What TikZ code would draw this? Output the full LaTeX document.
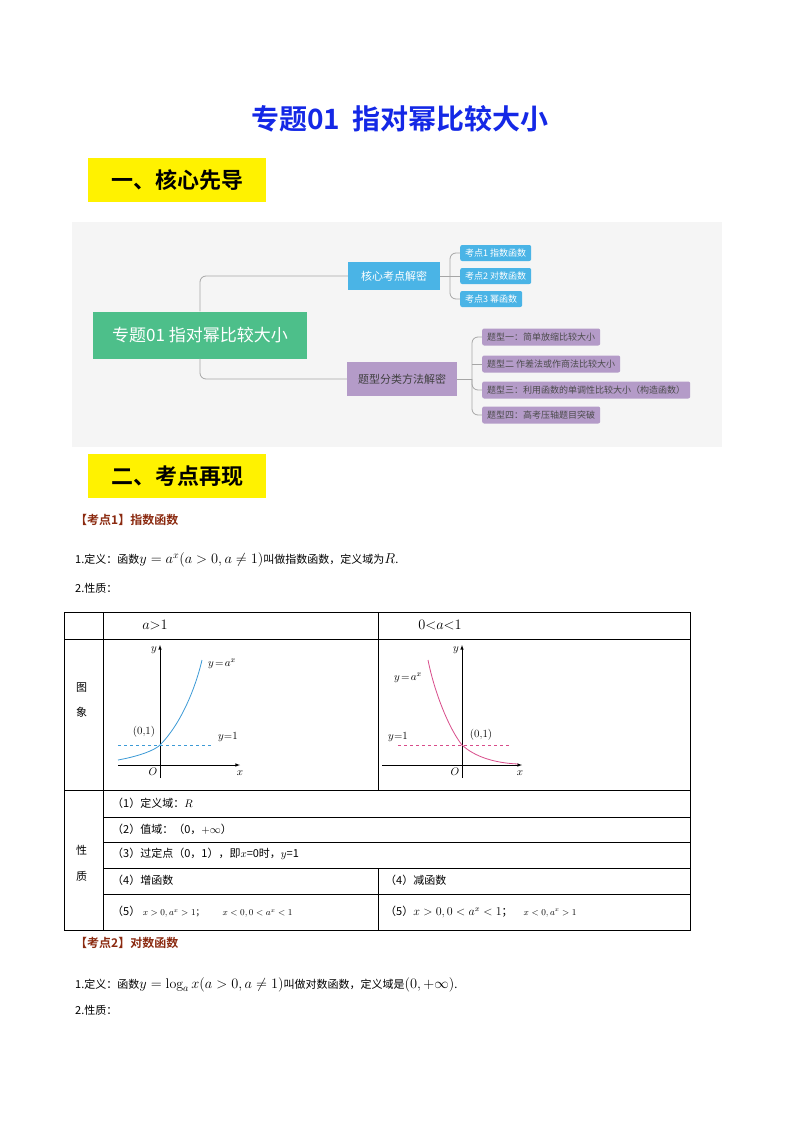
\documentclass[tikz,border=0pt]{standalone}
\usepackage{fontspec}
\newfontfamily\cjk{Noto Sans CJK SC}
\newfontfamily\cjkb{Noto Sans CJK SC Bold}
\definecolor{tblue}{HTML}{1428E6}
\definecolor{mgreen}{HTML}{4DBF8A}
\definecolor{mblue}{HTML}{4AB4E6}
\definecolor{mpurple}{HTML}{B49BC8}
\definecolor{kred}{HTML}{8B2A10}
\definecolor{cblue}{HTML}{3C9AD6}
\definecolor{cpink}{HTML}{D84C8A}
\tikzset{
 txt/.style={anchor=west,inner sep=0,font=\cjk\fontsize{11}{13}\selectfont},
 ybox/.style={fill=yellow,minimum width=178pt,minimum height=44pt,font=\cjkb\fontsize{22}{26}\selectfont},
 bleaf/.style={fill=mblue,rounded corners=2pt,text=white,anchor=west,minimum height=16pt,inner xsep=5pt,inner ysep=0pt,font=\cjk\fontsize{9}{10}\selectfont},
 pleaf/.style={fill=mpurple,rounded corners=2pt,text=black!70,anchor=west,minimum height=17pt,inner xsep=5pt,inner ysep=0pt,font=\cjk\fontsize{9}{10}\selectfont},
 conn/.style={draw=gray!70,line width=0.8pt,rounded corners=6pt},
 grid/.style={line width=0.6pt},
 glab/.style={font=\fontsize{11}{12}\selectfont},
}
\begin{document}
\begin{tikzpicture}[x=1pt,y=-1pt]
\useasboundingbox (0,0) rectangle (800,1132);
\fill[white] (0,0) rectangle (800,1132);
\node[font=\cjkb\fontsize{28}{32}\selectfont,text=tblue] (title) at (400,119) {专题01\ \ 指对幂比较大小};
\node[ybox] (h1) at (177,180) {一、核心先导};
% mind map
\fill[gray!8] (72,222) rectangle (722,447);
\node[fill=mgreen,text=white,minimum width=214pt,minimum height=47pt,font=\cjk\fontsize{17}{20}\selectfont] (main) at (200,335) {专题01 指对幂比较大小};
\node[fill=mblue,text=white,minimum width=92pt,minimum height=28pt,font=\cjk\fontsize{11}{13}\selectfont] (b1) at (394,276) {核心考点解密};
\node[fill=mpurple,text=black!75,minimum width=110pt,minimum height=34pt,font=\cjk\fontsize{11}{13}\selectfont] (b2) at (402,379) {题型分类方法解密};
\node[bleaf] (l1) at (460,253) {考点1 指数函数};
\node[bleaf] (l2) at (460,276) {考点2 对数函数};
\node[bleaf] (l3) at (460,299) {考点3 幂函数};
\node[pleaf] (p1) at (482,337) {题型一：简单放缩比较大小};
\node[pleaf] (p2) at (482,364) {题型二 作差法或作商法比较大小};
\node[pleaf] (p3) at (482,390) {题型三：利用函数的单调性比较大小（构造函数）};
\node[pleaf] (p4) at (482,415) {题型四：高考压轴题目突破};
\draw[conn] (main.north) |- (b1.west);
\draw[conn] (main.south) |- (b2.west);
\draw[conn] (b1.east) -- (450,276);
\draw[conn] (450,276) |- (l1.west); \draw[conn] (450,276) |- (l3.west); \draw[conn] (450,276) -- (l2.west);
\draw[conn] (b2.east) -- (472,379);
\draw[conn] (472,379) |- (p1.west); \draw[conn] (472,379) |- (p4.west);
\draw[conn] (472,364) -- (p2.west); \draw[conn] (472,379) |- (p3.west);
\node[ybox] (h2) at (177,476) {二、考点再现};
\node[txt,font=\cjkb\fontsize{12}{14}\selectfont,text=kred] (k1) at (75,520) {【考点1】指数函数};
\node[txt] (d1) at (75,560) {1.定义：函数{\fontsize{14}{16}\selectfont$y=a^x(a>0,a\neq1)$}叫做指数函数，定义域为{\fontsize{14}{16}\selectfont$R$}.};
\node[txt] (d2) at (75,588) {2.性质：};
% table
\draw[grid] (64,612) rectangle (690,930);
\draw[grid] (64,639) -- (690,639);
\draw[grid] (64,790) -- (690,790);
\draw[grid] (103,612) -- (103,930);
\draw[grid] (378,612) -- (378,790);
\draw[grid] (378,868) -- (378,930);
\foreach \yy in {817,842,868,894} \draw[grid] (103,\yy) -- (690,\yy);
\node[font=\fontsize{15}{17}\selectfont] (c1) at (155,625) {$a{>}1$};
\node[font=\fontsize{15}{17}\selectfont] (c2) at (440,625) {$0{<}a{<}1$};
\node[txt] (r1) at (76,688) {图};
\node[txt] (r2) at (76,712) {象};
\node[txt] (r3) at (76,850) {性};
\node[txt] (r4) at (76,876) {质};
\node[txt] (s1) at (112,803) {（1）定义域：$R$};
\node[txt] (s2) at (112,829) {（2）值域：（0，$+\infty$）};
\node[txt] (s3) at (112,854) {（3）过定点（0，1），即$x$=0时，$y$=1};
\node[txt] (s4) at (112,880) {（4）增函数};
\node[txt] (s5) at (385,880) {（4）减函数};
\node[txt] (s6) at (112,912) {（5）\ {\fontsize{9}{10}\selectfont $x>0,a^x>1$；\qquad $x<0,0<a^x<1$}};
\node[txt] (s7) at (385,912) {（5）{\fontsize{12}{14}\selectfont$x>0,0<a^x<1$}；\quad {\fontsize{9}{10}\selectfont$x<0,a^x>1$}};
% graph 1
\draw[line width=0.6pt,-latex] (118,765) -- (240,765);
\draw[line width=0.6pt,-latex] (160,778) -- (160,645);
\draw[cblue,dashed,line width=0.7pt] (118,745) -- (212,745);
\draw[cblue,line width=0.8pt] (118,760) .. controls (140,756) and (155,750) .. (160,745) .. controls (180,725) and (195,690) .. (202,660);
\node[glab] (g1) at (222,664) {$y\!=\!a^x$};
\node[glab] (g2) at (144,732) {(0,1)};
\node[glab] (g3) at (228,737) {$y$=1};
\node[glab] (g4) at (153,772) {$O$};
\node[glab] (g5) at (240,773) {$x$};
\node[glab] (g6) at (154,650) {$y$};
% graph 2
\draw[line width=0.6pt,-latex] (382,765) -- (522,765);
\draw[line width=0.6pt,-latex] (462,778) -- (462,645);
\draw[cpink,dashed,line width=0.7pt] (398,745) -- (510,745);
\draw[cpink,line width=0.8pt] (428,660) .. controls (435,695) and (450,730) .. (462,745) .. controls (475,757) and (495,763) .. (518,764);
\node[glab] (h1g) at (408,678) {$y\!=\!a^x$};
\node[glab] (h2g) at (398,737) {$y$=1};
\node[glab] (h3g) at (481,735) {(0,1)};
\node[glab] (h4g) at (455,772) {$O$};
\node[glab] (h5g) at (520,773) {$x$};
\node[glab] (h6g) at (456,650) {$y$};
\node[txt,font=\cjkb\fontsize{12}{14}\selectfont,text=kred] (k2) at (75,943) {【考点2】对数函数};
\node[txt] (d3) at (75,985) {1.定义：函数{\fontsize{14}{16}\selectfont$y=\log_a x(a>0,a\neq1)$}叫做对数函数，定义域是{\fontsize{14}{16}\selectfont$(0,+\infty)$}.};
\node[txt] (d4) at (75,1010) {2.性质：};
\end{tikzpicture}
\end{document}
